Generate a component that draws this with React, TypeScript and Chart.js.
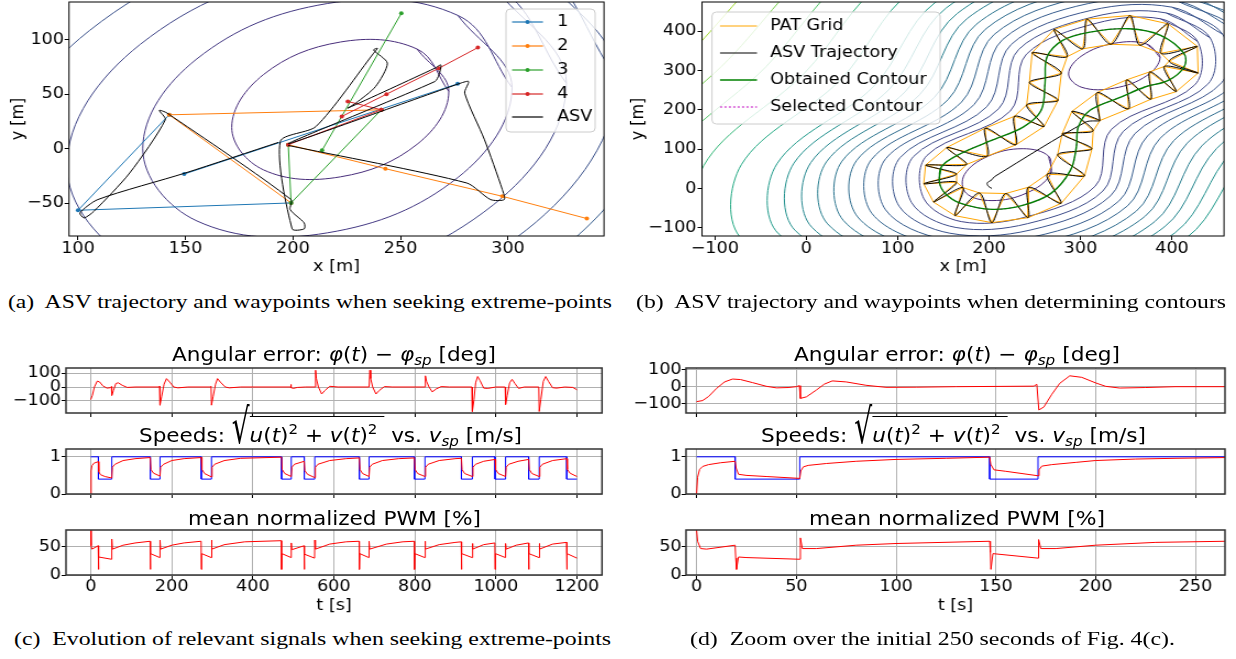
import React, { useEffect, useLayoutEffect, useRef } from 'react';
import { Chart, registerables } from 'chart.js';
Chart.register(...registerables);

const S = 1.1;
const FONT = "'DejaVu Sans', sans-serif";
const SERIF = "'Liberation Serif', 'Times New Roman', serif";

// ---------------- (a) data ----------------
const A_X_TICKS = [100, 150, 200, 250, 300];
const A_Y_TICKS = [-50, 0, 50, 100];
const A_RING1 = [[272.5, 52.5], [257.7, 91.4], [222, 97.8], [186.3, 68], [171.5, 19.5], [186.3, -19.4], [222, -25.8], [257.7, 4]];
const A_RING2 = [[301.9, 56.1], [276.7, 122.2], [216, 133.1], [155.3, 82.4], [130.1, -0.1], [155.3, -66.2], [216, -77.1], [276.7, -26.4]];
const A_RING3 = [[327.2, 60], [293.1, 149.4], [211, 164.1], [128.9, 95.6], [94.8, -16], [128.9, -105.4], [211, -120.1], [293.1, -51.6]];
const A_RING4 = [[350.9, 64], [308.7, 174.7], [207, 193.1], [105.3, 108.3], [63.1, -30], [105.3, -140.7], [207, -159.1], [308.7, -74.3]];
const A_RING5 = [[373.2, 68.3], [323.6, 198.5], [204, 220], [84.4, 120.3], [34.8, -42.3], [84.4, -172.5], [204, -194], [323.6, -94.3]];
const A_RING6 = [[392.9, 72.7], [336.7, 220.3], [201, 244.8], [65.3, 131.7], [9.1, -52.7], [65.3, -200.3], [201, -224.8], [336.7, -111.7]];
const A_RING7 = [[413.6, 77.1], [350.7, 242.3], [199, 269.7], [47.3, 143.1], [-15.6, -63.1], [47.3, -228.3], [199, -255.7], [350.7, -129.1]];
const A_RING8 = [[434.4, 82.6], [364.8, 265.3], [197, 295.5], [29.2, 155.5], [-40.4, -72.6], [29.2, -255.3], [197, -285.5], [364.8, -145.5]];
const A_RINGS = [A_RING1, A_RING2, A_RING3, A_RING4, A_RING5, A_RING6, A_RING7, A_RING8];
const A_RING_COLORS = ['#472c7a', '#443983', '#404688', '#3b528b', '#365d8d', '#31688e', '#2c728e', '#287c8e'];

const WP1 = [[142.4, 31.1], [100, -56.4], [199.1, -49.7], null, [149.4, -23.2], [276.6, 59.5]];
const WP2 = [[241.1, 35.7], [142.4, 31.1], [199.1, -49.7], null, [197.8, 3.7], [243, -18.3], [297.4, -43.6], [336.7, -64]];
const WP3 = [[250.4, 124.1], [213.5, -1.5], null, [197.8, 3.7], [199.1, -49.7], [241.1, 35.7]];
const WP4 = [[286, 92.7], [267.9, 73.8], [243.5, 50], [222.7, 29.6], null, [225.5, 43.3], [241.1, 35.7], null, [197.8, 3.7], [241.1, 35.7]];
const ASV_A = [[193.2, 5.8], [149.8, -22.3], [109.2, -46.6], [100.9, -58.8], [102.8, -63.4], [107.4, -57.3], [124, -22.3], [140.6, 26.5], [137.8, 35.1], [141.5, 32.6], [199.1, -46.6], [198.7, -55.8], [205.2, -68], [205.2, -73.5], [199.6, -73.5], [194.1, 6.7], [210.7, 20.4], [237.5, 87.5], [239.3, 92], [237.5, 90.5], [243.9, 78.4], [238.4, 57], [229.2, 41.8], [225.5, 37.2], [266, 73.8], [268.8, 76.8], [267.9, 67.7], [266, 61.6], [197.8, 4.6], [277.1, 59.5], [281.7, 61.6], [279.9, 50.9], [289.1, 8.2], [297.4, -37.5], [298.3, -46.6], [291.9, -46.6], [280.8, -31.4], [197.8, 3]];

// ---------------- (b) data ----------------
const B_TICKS = [-100, 0, 100, 200, 300, 400];
const B_INNER_LOW = [[267, 35], [265.2, 81.7], [237, 101], [198.8, 81.7], [173, 35], [174.8, -11.7], [203, -31], [241.2, -11.7]];
const B_INNER_UP = [[387, 333], [372.4, 367.1], [337, 369], [301.6, 337.5], [287, 291], [301.6, 256.9], [337, 255], [372.4, 286.5]];
const B_R01 = [[387.4, 431.4], [428.2, 373.6], [425.1, 263.5], [333.8, 150.2], [316.1, 5.7], [239.4, -73.2], [169.6, -84.4], [128.8, -26.6], [131.9, 83.5], [223.2, 196.8], [240.9, 341.3], [317.6, 420.2]];
const B_R02 = [[393.7, 446.2], [441.8, 382.9], [439.7, 266.1], [346.7, 144.8], [324.5, -6.6], [242.3, -89.5], [163.4, -99.2], [115.2, -35.9], [117.3, 81], [210.4, 202.3], [232.5, 353.6], [314.7, 436.5]];
const B_R03 = [[399.9, 460.9], [455.4, 392.2], [454.3, 268.6], [359.5, 139.3], [332.9, -18.8], [245.2, -105.8], [157.1, -113.9], [101.6, -45.2], [102.7, 78.4], [197.5, 207.7], [224.1, 365.8], [311.8, 452.8]];
const B_R04 = [[406.3, 476.1], [470.3, 401.5], [470, 271], [373.4, 133.5], [342.2, -31.7], [248.9, -122.9], [150.7, -129.1], [86.8, -54.5], [87.1, 76.1], [183.7, 213.6], [214.9, 378.7], [308.2, 469.9]];
const B_R05 = [[412.7, 491.2], [485.1, 410.7], [485.6, 273.3], [387.2, 127.6], [351.4, -44.5], [252.5, -139.9], [144.3, -144.2], [71.9, -63.7], [71.4, 73.7], [169.8, 219.4], [205.6, 391.5], [304.5, 486.9]];
const B_R06 = [[419.1, 506.4], [500.8, 419.6], [501.7, 275.5], [402, 121.4], [361.1, -57.6], [257.1, -157.4], [137.9, -159.4], [56.3, -72.6], [55.3, 71.6], [155.1, 225.7], [195.9, 404.6], [300, 504.4]];
const B_R07 = [[425.5, 521.6], [516.4, 428.4], [517.8, 277.6], [416.7, 115.1], [370.8, -70.6], [261.6, -174.8], [131.5, -174.6], [40.6, -81.4], [39.2, 69.4], [140.3, 231.9], [186.2, 417.6], [295.4, 521.8]];
const B_R08 = [[432.2, 537.3], [533.6, 437.2], [534.9, 279.6], [432.8, 108.3], [381.3, -84.3], [267.4, -193.3], [124.9, -190.3], [23.4, -90.2], [22.1, 67.5], [124.2, 238.7], [175.7, 431.3], [289.6, 540.3]];
const B_R09 = [[438.8, 553], [550.8, 445.9], [552, 281.5], [448.9, 101.5], [391.8, -97.9], [273.2, -211.7], [118.2, -206], [6.2, -98.9], [5, 65.5], [108.1, 245.5], [165.2, 444.9], [283.8, 558.7]];
const B_R10 = [[445.4, 568.7], [569, 454.2], [570.5, 283], [466, 94.3], [403.7, -112.2], [279.9, -230.5], [111.6, -221.7], [-12, -107.2], [-13.5, 64.1], [91.1, 252.7], [153.3, 459.2], [277.1, 577.5]];
const B_R11 = [[452, 584.3], [587.2, 462.5], [589, 284.4], [483, 87.1], [415.6, -126.4], [286.6, -249.3], [105, -237.3], [-30.2, -115.5], [-32, 62.6], [74, 259.9], [141.4, 473.4], [270.4, 596.3]];
const B_R12 = [[465.2, 615.6], [626.3, 477.9], [627.9, 286.4], [519.8, 71.6], [441.1, -155.6], [302.7, -288.1], [91.8, -268.6], [-69.3, -130.9], [-70.9, 60.6], [37.2, 275.4], [115.9, 502.6], [254.3, 635.1]];
const B_R13 = [[479.2, 648.7], [667.9, 494.3], [669, 288.6], [559.4, 54.9], [468.2, -186.6], [320.1, -329.3], [77.8, -301.7], [-110.9, -147.3], [-112, 58.4], [-2.4, 292.1], [88.8, 533.6], [236.9, 676.3]];
const B_R14 = [[494, 683.7], [712, 511.3], [713.3, 290.5], [600.9, 37.3], [497.7, -219.7], [338.6, -372.9], [63, -336.7], [-155, -164.3], [-156.3, 56.5], [-43.9, 309.7], [59.3, 566.7], [218.4, 719.9]];
const B_R15 = [[509.6, 720.6], [755, 530.8], [757.8, 293.3], [642.3, 19.8], [526.8, -253.7], [354.6, -417.2], [47.4, -373.6], [-198, -183.8], [-200.8, 53.7], [-85.3, 327.2], [30.2, 600.7], [202.4, 764.2]];
const B_R16 = [[525.9, 759.3], [796.7, 552.6], [803.8, 296.8], [683.7, 2.3], [556.4, -289], [368.1, -462.4], [31.1, -412.3], [-239.7, -205.6], [-246.8, 50.2], [-126.7, 344.7], [0.6, 636], [188.9, 809.4]];
const B_RINGS = [B_R01, B_R02, B_R03, B_R04, B_R05, B_R06, B_R07, B_R08, B_R09, B_R10, B_R11, B_R12, B_R13, B_R14, B_R15, B_R16];
const B_RING_COLORS = ['#414487', '#3d4c8a', '#3a548c', '#365c8d', '#32648e', '#2e6c8e', '#2b748e', '#277d8e', '#24868e', '#21908d', '#1f9a8a', '#23a983', '#35b779', '#52c569', '#7ad151', '#a5db36'];
const B_INNER_COLOR = '#482878';

const B_GREEN = [[145.6, 16.9], [147.8, 55], [169.2, 88.8], [203.4, 122.6], [237.7, 156.4], [257, 198.7], [261.2, 266.4], [263.4, 334], [280.5, 376.3], [310.5, 397.5], [353.3, 405.9], [387.6, 389], [413.3, 342.5], [413.3, 308.7], [396.1, 274.8], [370.4, 257.9], [344.8, 232.6], [310.5, 198.7], [297.6, 156.4], [295.5, 105.7], [289.1, 46.5], [267.7, -12.7], [237.7, -42.3], [203.4, -53.3], [169.2, -38.1], [152, -12.7]];
const B_OUTER = [[128.5, 11.8], [128.8, 35.5], [130.6, 59.2], [140.5, 83], [153.7, 104], [173, 130.5], [195.7, 153.1], [211.8, 168.3], [227.8, 183.5], [234.5, 197.9], [241.1, 212.3], [241.5, 241], [244.1, 269.8], [244.5, 307.4], [247.1, 345], [256.5, 377], [271.1, 404.2], [288, 420], [307.1, 430.4], [330.7, 438], [354.2, 439.7], [376.5, 432], [395.7, 418.6], [414.5, 393], [427.8, 361.1], [431.5, 327.3], [428.7, 293.4], [419, 267.5], [404.7, 246.1], [390.8, 236.4], [376.9, 226.6], [364.7, 214.4], [352.5, 202.1], [336.9, 187.3], [321.2, 172.5], [317.6, 159.4], [313.9, 146.3], [313.3, 123.5], [312.6, 100.6], [310, 66.4], [304.5, 32.1], [294, -2], [278.8, -38.1], [263, -58.5], [242.8, -74.4], [223, -84], [203, -87.1], [181.5, -81], [162.7, -69.3], [148.5, -54], [139.2, -34.7], [131.5, -12]];
const B_INNER = [[162.7, 22], [164.5, 36.4], [164.9, 50.7], [175.5, 61], [184.6, 73.6], [198, 82], [211.1, 92.2], [229.3, 110.8], [247.5, 129.4], [260.2, 157.3], [272.8, 185.2], [275.6, 224.1], [278.4, 263], [279.1, 293], [279.7, 323], [285.5, 335], [289.9, 348.4], [302.5, 355], [313.9, 364.5], [333.2, 366.5], [352.5, 372.1], [365, 364], [379.4, 359.4], [388, 343.5], [398.7, 329.8], [397, 323.5], [397.9, 317.1], [391.5, 310], [387.6, 303.6], [375.8, 296.4], [364, 289.2], [350.5, 276.1], [337, 263], [318.4, 244], [299.8, 224.9], [290.6, 195.8], [281.4, 166.6], [279.9, 138.7], [278.4, 110.8], [275, 85.9], [273.7, 60.9], [263.5, 36], [256.5, 12.7], [243, 3], [232.5, -10.1], [218.2, -13], [203.9, -19.5], [189.5, -11.5], [175.6, -6.8], [171.5, 2], [164.9, 9.3], [164.5, 15.7]];
const B_START = [[203, 0], [199, 6], [198, 14], [203, 22], [206, 30], [306, 169]];

// ---------------- (c) data ----------------
const C_X_TICKS = [0, 200, 400, 600, 800, 1000, 1200];
const ANG_TICKS = [-100, 0, 100];
const SPD_TICKS = [0, 1];
const PWM_TICKS = [0, 50];
const ANG_C = [[0, -90], [4, -60], [9, 0], [16, 42], [22, 36], [30, 8], [40, -8], [48, -5], [51, 3], [52, -60], [56, -25], [62, 25], [68, 30], [78, 12], [90, -3], [110, 0], [169, 0], [170, 6], [171, -130], [175, -70], [181, 20], [187, 60], [195, 35], [205, 0], [215, -6], [240, 0], [296, 0], [297, 5], [298, -130], [302, -70], [308, 20], [313, 60], [320, 35], [332, 0], [342, -6], [370, 0], [493, 0], [494, 18], [495, -5], [500, -10], [510, -3], [530, 0], [553, 0], [555, 120], [557, 60], [562, 0], [570, -50], [578, -25], [590, 5], [610, 0], [687, 0], [689, 120], [691, 60], [696, 0], [704, -50], [712, -25], [725, 3], [745, 0], [825, 0], [826, 80], [829, 40], [835, 0], [843, -35], [852, -15], [865, 3], [885, 0], [941, 0], [942, -175], [946, -90], [950, 30], [955, 75], [961, 45], [970, -8], [980, -10], [1000, 0], [1023, 0], [1024, -125], [1028, -60], [1034, 30], [1040, 55], [1047, 25], [1056, -10], [1070, 0], [1106, 0], [1107, -175], [1111, -90], [1117, 40], [1123, 75], [1130, 40], [1140, -5], [1150, -8], [1170, 0], [1190, -3], [1200, -20]];
const SP_C = [[0, 1], [19, 1], [19, 0.4], [52, 0.4], [52, 1], [147, 1], [147, 0.4], [171, 0.4], [171, 1], [273, 1], [273, 0.4], [298, 0.4], [298, 1], [471, 1], [471, 0.4], [495, 0.4], [495, 1], [527, 1], [527, 0.4], [553, 0.4], [553, 1], [663, 1], [663, 0.4], [687, 0.4], [687, 1], [799, 1], [799, 0.4], [825, 0.4], [825, 1], [915, 1], [915, 0.4], [942, 0.4], [942, 1], [998, 1], [998, 0.4], [1024, 0.4], [1024, 1], [1081, 1], [1081, 0.4], [1107, 0.4], [1107, 1], [1175, 1], [1175, 0.4], [1200, 0.4]];
const SPD_C = [[0, 0], [1, 0.62], [3, 0.76], [8, 0.83], [19, 0.87], [20, 0.6], [24, 0.52], [35, 0.47], [52, 0.43], [53.5, 0.72], [60, 0.8], [80, 0.9], [110, 0.95], [147, 0.98], [148.5, 0.66], [155, 0.56], [171, 0.48], [172.5, 0.72], [180, 0.8], [200, 0.9], [230, 0.95], [273, 0.98], [274.5, 0.66], [281, 0.55], [298, 0.46], [299.5, 0.72], [306, 0.8], [330, 0.9], [370, 0.96], [471, 0.99], [472.5, 0.66], [479, 0.55], [495, 0.47], [496.5, 0.72], [503, 0.8], [527, 0.88], [528.5, 0.63], [535, 0.53], [553, 0.44], [554.5, 0.72], [561, 0.8], [590, 0.9], [630, 0.95], [663, 0.97], [664.5, 0.66], [671, 0.55], [687, 0.47], [688.5, 0.72], [695, 0.8], [720, 0.9], [760, 0.95], [799, 0.97], [800.5, 0.66], [807, 0.55], [825, 0.47], [826.5, 0.72], [833, 0.8], [860, 0.9], [900, 0.95], [915, 0.96], [916.5, 0.66], [923, 0.55], [942, 0.47], [943.5, 0.72], [950, 0.8], [970, 0.88], [998, 0.93], [999.5, 0.66], [1006, 0.55], [1024, 0.47], [1025.5, 0.72], [1032, 0.8], [1055, 0.88], [1081, 0.93], [1082.5, 0.66], [1089, 0.55], [1107, 0.47], [1108.5, 0.72], [1115, 0.8], [1140, 0.9], [1175, 0.95], [1176.5, 0.66], [1183, 0.56], [1200, 0.47]];
const PWM_C = [[0, 80], [1, 52], [3, 46], [18.5, 52], [19, 10], [20, 32], [51.5, 28], [52, 64], [53.5, 46], [80, 53], [110, 57], [146.5, 60], [147, 10], [148, 38], [170.5, 31], [171, 62], [172.5, 46], [200, 53], [230, 57], [272.5, 60], [273, 10], [274, 38], [297.5, 31], [298, 62], [299.5, 46], [330, 54], [380, 59], [470.5, 61], [471, 10], [472, 38], [494.5, 31], [495, 57], [496.5, 45], [526.5, 52], [527, 10], [528, 37], [552.5, 30], [553, 62], [554.5, 46], [590, 55], [630, 59], [662.5, 60], [663, 10], [664, 38], [686.5, 31], [687, 60], [688.5, 46], [730, 55], [770, 59], [798.5, 60], [799, 10], [800, 38], [824.5, 31], [825, 60], [826.5, 46], [860, 54], [900, 58], [914.5, 59], [915, 10], [916, 38], [941.5, 31], [942, 56], [943.5, 46], [970, 54], [997.5, 57], [998, 10], [999, 38], [1023.5, 31], [1024, 56], [1025.5, 46], [1050, 53], [1080.5, 57], [1081, 10], [1082, 38], [1106.5, 31], [1107, 56], [1108.5, 46], [1140, 55], [1174.5, 58], [1175, 10], [1176, 38], [1200, 30]];

// ---------------- (d) data ----------------
const D_X_TICKS = [0, 50, 100, 150, 200, 250];
const ANG_D = [[0, -88], [3, -82], [6, -58], [10, -10], [14, 28], [18, 45], [22, 42], [28, 24], [35, 2], [40, -7], [46, -5], [50, 0], [51.5, 6], [52, -69], [55, -60], [60, -20], [64, 15], [68, 34], [75, 28], [85, 8], [95, -4], [110, -3], [130, 0], [169, 3], [170.5, 14], [171.5, -137], [174, -120], [178, -45], [182, 20], [187, 64], [193, 55], [200, 22], [205, 2], [212, -8], [225, -5], [240, 0], [265, 0]];
const SP_D = [[0, 1], [19.3, 1], [19.3, 0.4], [51.7, 0.4], [51.7, 1], [146.9, 1], [146.9, 0.4], [171.1, 0.4], [171.1, 1], [265, 1]];
const SPD_D = [[0, 0], [0.5, 0.45], [1.5, 0.66], [3, 0.74], [6, 0.79], [12, 0.84], [19.3, 0.88], [19.8, 0.7], [21, 0.53], [25, 0.5], [35, 0.47], [51.7, 0.42], [52.2, 0.62], [53.5, 0.73], [56, 0.77], [65, 0.82], [80, 0.88], [100, 0.93], [125, 0.96], [146.9, 0.99], [147.4, 0.8], [149, 0.65], [155, 0.61], [171.1, 0.49], [171.6, 0.65], [173, 0.75], [178, 0.79], [190, 0.85], [200, 0.9], [220, 0.94], [240, 0.96], [265, 0.98]];
const PWM_D = [[0, 80], [0.5, 60], [2, 47], [5, 46], [19.3, 53], [19.6, 30], [20, 10], [21, 32], [25, 31], [51.7, 28], [52, 66], [53, 47], [60, 47], [80, 53], [100, 56], [146.9, 60], [147.2, 40], [147.5, 10], [148.5, 38], [171.1, 30], [171.4, 63], [172.5, 47], [180, 47], [200, 53], [230, 58], [265, 60]];

// ---------------- helpers ----------------
const pts = (a: any[]) => a.map((p) => (p ? { x: p[0], y: p[1] } : { x: null, y: null }));
const closed = (a: number[][]) => pts([...a, a[0], a[1]]);
const fmt = (v: number) => (v < 0 ? '\u2212' + Math.abs(v) : String(v));

interface Box { L: number; T: number; W: number; H: number; area: [number, number, number, number]; }
interface Lay { Wi: number; yW: number; padR: number; padT: number; xH: number; }
function layoutFor(b: Box): Lay {
  const Wi = Math.round(b.W / S);
  return {
    Wi,
    yW: (b.area[0] - b.L) / S,
    padR: Wi - (b.area[2] - b.L) / S,
    padT: b.area[1] - b.T,
    xH: b.T + b.H - b.area[3],
  };
}

const tickFont = { family: FONT, size: 16 };

function mkX(lay: Lay, min: number, max: number, ticks: number[], o: any) {
  return {
    type: 'linear', min, max,
    afterBuildTicks: (s: any) => { s.ticks = ticks.map((v) => ({ value: v })); },
    afterFit: (s: any) => { s.height = lay.xH; s.paddingLeft = 0; s.paddingRight = 0; s.paddingTop = 0; s.paddingBottom = 0; },
    ticks: { display: o.labels, callback: (v: number) => fmt(v), font: tickFont, color: '#000', padding: o.tickPad ?? -1, maxRotation: 0, minRotation: 0, autoSkip: false },
    grid: { display: true, drawOnChartArea: o.grid, color: '#b0b0b0', lineWidth: 1, drawTicks: true, tickLength: 4, tickColor: '#000', tickWidth: 1 },
    border: { display: false },
    title: o.title ? { display: true, text: o.title, font: tickFont, color: '#000', padding: { top: 0, bottom: o.titlePad ?? 0 } } : { display: false },
  };
}
function mkY(lay: Lay, min: number, max: number, ticks: number[], o: any) {
  return {
    type: 'linear', min, max,
    afterBuildTicks: (s: any) => { s.ticks = ticks.map((v) => ({ value: v })); },
    afterFit: (s: any) => { s.width = lay.yW; s.paddingLeft = 0; s.paddingRight = 0; s.paddingTop = 0; s.paddingBottom = 0; },
    ticks: { display: true, callback: (v: number) => fmt(v), font: tickFont, color: '#000', padding: o.tickPad ?? 1, autoSkip: false },
    grid: { display: true, drawOnChartArea: o.grid, color: '#b0b0b0', lineWidth: 1, drawTicks: true, tickLength: 4, tickColor: '#000', tickWidth: 1 },
    border: { display: false },
    title: o.title ? { display: true, text: o.title, font: tickFont, color: '#000', padding: { top: o.titlePad ?? 0, bottom: 0 } } : { display: false },
  };
}

function framePlugin(color: string, width: number) {
  return {
    id: 'frame',
    afterDatasetsDraw(chart: any) {
      const { ctx, chartArea: a } = chart;
      ctx.save();
      ctx.strokeStyle = color;
      ctx.lineWidth = width;
      ctx.strokeRect(a.left, a.top, a.right - a.left, a.bottom - a.top);
      ctx.restore();
    },
  };
}

function legendPlugin(cfg: any) {
  return {
    id: 'boxLegend',
    afterDraw(chart: any) {
      const ctx = chart.ctx;
      const [x0, y0, x1, y1] = cfg.box;
      ctx.save();
      ctx.beginPath();
      const r = 4;
      ctx.moveTo(x0 + r, y0);
      ctx.lineTo(x1 - r, y0);
      ctx.quadraticCurveTo(x1, y0, x1, y0 + r);
      ctx.lineTo(x1, y1 - r);
      ctx.quadraticCurveTo(x1, y1, x1 - r, y1);
      ctx.lineTo(x0 + r, y1);
      ctx.quadraticCurveTo(x0, y1, x0, y1 - r);
      ctx.lineTo(x0, y0 + r);
      ctx.quadraticCurveTo(x0, y0, x0 + r, y0);
      ctx.closePath();
      ctx.fillStyle = 'rgba(255,255,255,0.8)';
      ctx.fill();
      ctx.strokeStyle = '#cccccc';
      ctx.lineWidth = 1;
      ctx.stroke();
      cfg.items.forEach((it: any, i: number) => {
        const y = cfg.ys[i];
        ctx.strokeStyle = it.color;
        ctx.lineWidth = it.width || 1.2;
        ctx.setLineDash(it.dash || []);
        ctx.beginPath();
        ctx.moveTo(cfg.lx0, y);
        ctx.lineTo(cfg.lx1, y);
        ctx.stroke();
        ctx.setLineDash([]);
        if (it.marker) {
          ctx.fillStyle = it.color;
          ctx.beginPath();
          ctx.arc((cfg.lx0 + cfg.lx1) / 2, y, 2, 0, Math.PI * 2);
          ctx.fill();
        }
        ctx.fillStyle = '#000';
        ctx.font = `16px ${FONT}`;
        ctx.textBaseline = 'middle';
        ctx.textAlign = 'left';
        ctx.fillText(it.label, cfg.tx, y);
      });
      ctx.restore();
    },
  };
}

function baseOptions(lay: Lay, scales: any) {
  return {
    responsive: false,
    animation: false,
    events: [],
    layout: { padding: { left: 0, right: lay.padR, top: lay.padT, bottom: 0 } },
    scales,
    plugins: { legend: { display: false }, tooltip: { enabled: false } },
    elements: { point: { radius: 0 }, line: { capBezierPoints: false, borderJoinStyle: 'round' } },
  };
}

function line(data: any[], color: string, extra: any = {}) {
  return { data, borderColor: color, backgroundColor: color, borderWidth: 1, pointRadius: 0, fill: false, tension: 0, ...extra };
}

function ChartCanvas({ box, build }: { box: Box; build: (lay: Lay) => any }) {
  const ref = useRef<HTMLCanvasElement>(null);
  const lay = layoutFor(box);
  useEffect(() => {
    const chart = new Chart(ref.current as HTMLCanvasElement, build(layoutFor(box)));
    return () => chart.destroy();
  }, []);
  return (
    <canvas
      ref={ref}
      width={lay.Wi}
      height={box.H}
      style={{ position: 'absolute', left: box.L, top: box.T, width: lay.Wi + 'px', height: box.H + 'px', transform: `scaleX(${S})`, transformOrigin: '0 0' }}
    />
  );
}

function FitText({ x, base, w, size, family, children }: any) {
  const ref = useRef<HTMLDivElement>(null);
  useLayoutEffect(() => {
    const el = ref.current;
    if (!el) return;
    el.style.transform = 'none';
    const nat = el.getBoundingClientRect().width;
    if (nat > 0) el.style.transform = `scaleX(${w / nat})`;
  });
  const asc = family === SERIF ? 0.8375 : 0.846;
  return (
    <div ref={ref} style={{ position: 'absolute', left: x, top: base - asc * size, fontSize: size, fontFamily: family, lineHeight: 1, whiteSpace: 'pre', transformOrigin: '0 0', color: '#000' }}>
      {children}
    </div>
  );
}

const Sub = ({ children }: any) => <span style={{ fontSize: '0.7em', position: 'relative', top: '0.3em', fontStyle: 'italic' }}>{children}</span>;
const Sup = ({ children }: any) => <span style={{ fontSize: '0.7em', position: 'relative', top: '-0.55em' }}>{children}</span>;
const Radical = () => (
  <span style={{ display: 'inline-block', fontSize: '1.3em', lineHeight: 1, margin: '-8px 0 -3px 0', transform: 'scaleY(1.85)', transformOrigin: '50% 82%' }}>√</span>
);

const SpeedsTitle = () => (
  <>
    {'Speeds: '}<Radical />
    <span style={{ borderTop: '1.3px solid #000', paddingTop: 6 }}><i>u</i>(<i>t</i>)<Sup>2</Sup>{' + '}<i>v</i>(<i>t</i>)<Sup>2</Sup>{' '}</span>
    {' vs. '}<i>v</i><Sub>sp</Sub>{' [m/s]'}
  </>
);
const AngTitle = () => (
  <>
    {'Angular error: '}<i>φ</i>(<i>t</i>){' \u2212 '}<i>φ</i><Sub>sp</Sub>{' [deg]'}
  </>
);

// ---------------- chart builders ----------------
const boxA: Box = { L: 0, T: 0, W: 620, H: 280, area: [69, 2, 604, 236] };
const boxB: Box = { L: 620, T: 0, W: 616, H: 280, area: [702, 2, 1224, 236] };
const rowsY = [
  { T: 362, H: 56, top: 368, bottom: 413 },
  { T: 443, H: 56, top: 449, bottom: 494 },
  { T: 524, H: 96, top: 530, bottom: 575 },
];
const colC = { L: 0, W: 620, left: 66, right: 602 };
const colD = { L: 620, W: 616, left: 686, right: 1225 };

function buildA(lay: Lay) {
  const datasets: any[] = [];
  A_RINGS.forEach((r, i) => datasets.push(line(closed(r), A_RING_COLORS[i], { tension: 0.38, order: 50 })));
  datasets.push(line(pts(ASV_A), '#000000', { tension: 0.25, order: 0 }));
  const wpStyle = { pointRadius: 2, pointHoverRadius: 2, pointBorderWidth: 0 };
  datasets.push(line(pts(WP1), '#1f77b4', { ...wpStyle, order: 4 }));
  datasets.push(line(pts(WP2), '#ff7f0e', { ...wpStyle, order: 3 }));
  datasets.push(line(pts(WP3), '#2ca02c', { ...wpStyle, order: 2 }));
  datasets.push(line(pts(WP4), '#d62728', { ...wpStyle, order: 1 }));
  const opts: any = baseOptions(lay, {
    x: mkX(lay, 95.8, 344.7, A_X_TICKS, { labels: true, grid: false, title: 'x [m]', titlePad: 3.4, tickPad: -1 }),
    y: mkY(lay, -80, 134.5, A_Y_TICKS, { grid: false, title: 'y [m]', titlePad: 6.8, tickPad: 0.5 }),
  });
  return {
    type: 'line',
    data: { datasets },
    options: opts,
    plugins: [
      framePlugin('#000', 1),
      legendPlugin({
        box: [460, 9, 541, 132], lx0: 465.5, lx1: 493.6, tx: 506.4, ys: [22, 46, 70, 94, 117],
        items: [
          { label: '1', color: '#1f77b4', marker: true },
          { label: '2', color: '#ff7f0e', marker: true },
          { label: '3', color: '#2ca02c', marker: true },
          { label: '4', color: '#d62728', marker: true },
          { label: 'ASV', color: '#000000' },
        ],
      }),
    ],
  };
}

function buildB(lay: Lay) {
  const datasets: any[] = [];
  B_RINGS.forEach((r, i) => datasets.push(line(closed(r), B_RING_COLORS[i], { tension: 0.35, order: 50 })));
  datasets.push(line(closed(B_INNER_LOW), B_INNER_COLOR, { tension: 0.38, order: 50 }));
  datasets.push(line(closed(B_INNER_UP), B_INNER_COLOR, { tension: 0.38, order: 50 }));
  const n = B_OUTER.length;
  // PAT grid nodes: outer nodes at even indices, inner nodes at odd indices
  const nodes: number[][] = [];
  for (let k = 0; k < n; k++) nodes.push(k % 2 === 0 ? B_OUTER[k] : B_INNER[k]);
  const outerNodes = B_OUTER.filter((_, k) => k % 2 === 0);
  const innerNodes = B_INNER.filter((_, k) => k % 2 === 1);
  datasets.push(line(pts([...nodes, nodes[0]]), '#ffa500', { order: 4 }));
  datasets.push(line(pts([...outerNodes, outerNodes[0]]), '#ffa500', { order: 4 }));
  datasets.push(line(pts([...innerNodes, innerNodes[0]]), '#ffa500', { order: 4 }));
  const traj: number[][] = [...B_START];
  for (let k = 0; k <= n; k++) traj.push(nodes[(34 + k) % n]);
  datasets.push(line(pts(traj), '#000000', { tension: 0.3, order: 3 }));
  datasets.push(line(closed(B_GREEN), '#bf00bf', { tension: 0.35, borderDash: [2, 2], order: 2 }));
  datasets.push(line(closed(B_GREEN), '#008000', { tension: 0.35, borderWidth: 1.4, order: 1 }));
  const opts: any = baseOptions(lay, {
    x: mkX(lay, -114, 457, B_TICKS, { labels: true, grid: false, title: 'x [m]', titlePad: 3.4, tickPad: -1 }),
    y: mkY(lay, -121, 474, B_TICKS, { grid: false, title: 'y [m]', titlePad: 6.8, tickPad: 1 }),
  });
  return {
    type: 'line',
    data: { datasets },
    options: opts,
    plugins: [
      framePlugin('#000', 1),
      legendPlugin({
        box: [83.6, 12, 291, 124], lx0: 90.9, lx1: 124.5, tx: 136.4, ys: [26, 53, 80, 107],
        items: [
          { label: 'PAT Grid', color: '#ffa500' },
          { label: 'ASV Trajectory', color: '#000000' },
          { label: 'Obtained Contour', color: '#008000', width: 1.5 },
          { label: 'Selected Contour', color: '#bf00bf', dash: [2, 2] },
        ],
      }),
    ],
  };
}

function buildSeries(lay: Lay, xr: [number, number], xticks: number[], yr: [number, number], yticks: number[], series: any[], last: boolean, yPad: number) {
  const opts: any = baseOptions(lay, {
    x: mkX(lay, xr[0], xr[1], xticks, { labels: last, grid: true, title: last ? 't [s]' : undefined, titlePad: 4.4, tickPad: -1.6 }),
    y: mkY(lay, yr[0], yr[1], yticks, { grid: true, tickPad: yPad }),
  });
  return { type: 'line', data: { datasets: series }, options: opts, plugins: [framePlugin('#333333', 1.5)] };
}

const rowBox = (col: any, i: number): Box => ({ L: col.L, T: rowsY[i].T, W: col.W, H: rowsY[i].H, area: [col.left, rowsY[i].top, col.right, rowsY[i].bottom] });

export default function App() {
  const cX: [number, number] = [-61, 1262];
  const dX: [number, number] = [-5.3, 264.8];
  return (
    <div style={{ position: 'absolute', left: 0, top: 0, width: 1236, height: 659, background: '#fff', overflow: 'hidden' }}>
      <ChartCanvas box={boxA} build={buildA} />
      <ChartCanvas box={boxB} build={buildB} />

      <ChartCanvas box={rowBox(colC, 0)} build={(l) => buildSeries(l, cX, C_X_TICKS, [-186, 136], ANG_TICKS, [line(pts(ANG_C), '#ff0000')], false, 0.5)} />
      <ChartCanvas box={rowBox(colC, 1)} build={(l) => buildSeries(l, cX, C_X_TICKS, [0, 1.21], SPD_TICKS, [line(pts(SPD_C), '#ff0000', { order: 0 }), line(pts(SP_C), '#0000ff', { order: 1 })], false, 0.5)} />
      <ChartCanvas box={rowBox(colC, 2)} build={(l) => buildSeries(l, cX, C_X_TICKS, [0, 80], PWM_TICKS, [line(pts(PWM_C), '#ff0000')], true, 0.5)} />

      <ChartCanvas box={rowBox(colD, 0)} build={(l) => buildSeries(l, dX, D_X_TICKS, [-155, 110], ANG_TICKS, [line(pts(ANG_D), '#ff0000')], false, 0)} />
      <ChartCanvas box={rowBox(colD, 1)} build={(l) => buildSeries(l, dX, D_X_TICKS, [0, 1.21], SPD_TICKS, [line(pts(SPD_D), '#ff0000', { order: 0 }), line(pts(SP_D), '#0000ff', { order: 1 })], false, 0)} />
      <ChartCanvas box={rowBox(colD, 2)} build={(l) => buildSeries(l, dX, D_X_TICKS, [0, 80], PWM_TICKS, [line(pts(PWM_D), '#ff0000')], true, 0)} />

      <FitText x={172} base={361} w={324} size={20} family={FONT}><AngTitle /></FitText>
      <FitText x={139} base={442} w={383} size={20} family={FONT}><SpeedsTitle /></FitText>
      <FitText x={188} base={525} w={293} size={20} family={FONT}>{'mean normalized PWM [%]'}</FitText>

      <FitText x={794} base={361} w={326} size={20} family={FONT}><AngTitle /></FitText>
      <FitText x={761} base={442} w={385} size={20} family={FONT}><SpeedsTitle /></FitText>
      <FitText x={809} base={525} w={296} size={20} family={FONT}>{'mean normalized PWM [%]'}</FitText>

      <FitText x={8} base={308} w={604} size={19} family={SERIF}>{'(a)  ASV trajectory and waypoints when seeking extreme-points'}</FitText>
      <FitText x={636} base={308} w={590} size={19} family={SERIF}>{'(b)  ASV trajectory and waypoints when determining contours'}</FitText>
      <FitText x={14} base={645} w={597} size={19} family={SERIF}>{'(c)  Evolution of relevant signals when seeking extreme-points'}</FitText>
      <FitText x={690} base={645} w={485} size={19} family={SERIF}>{'(d)  Zoom over the initial 250 seconds of Fig. 4(c).'}</FitText>
    </div>
  );
}
